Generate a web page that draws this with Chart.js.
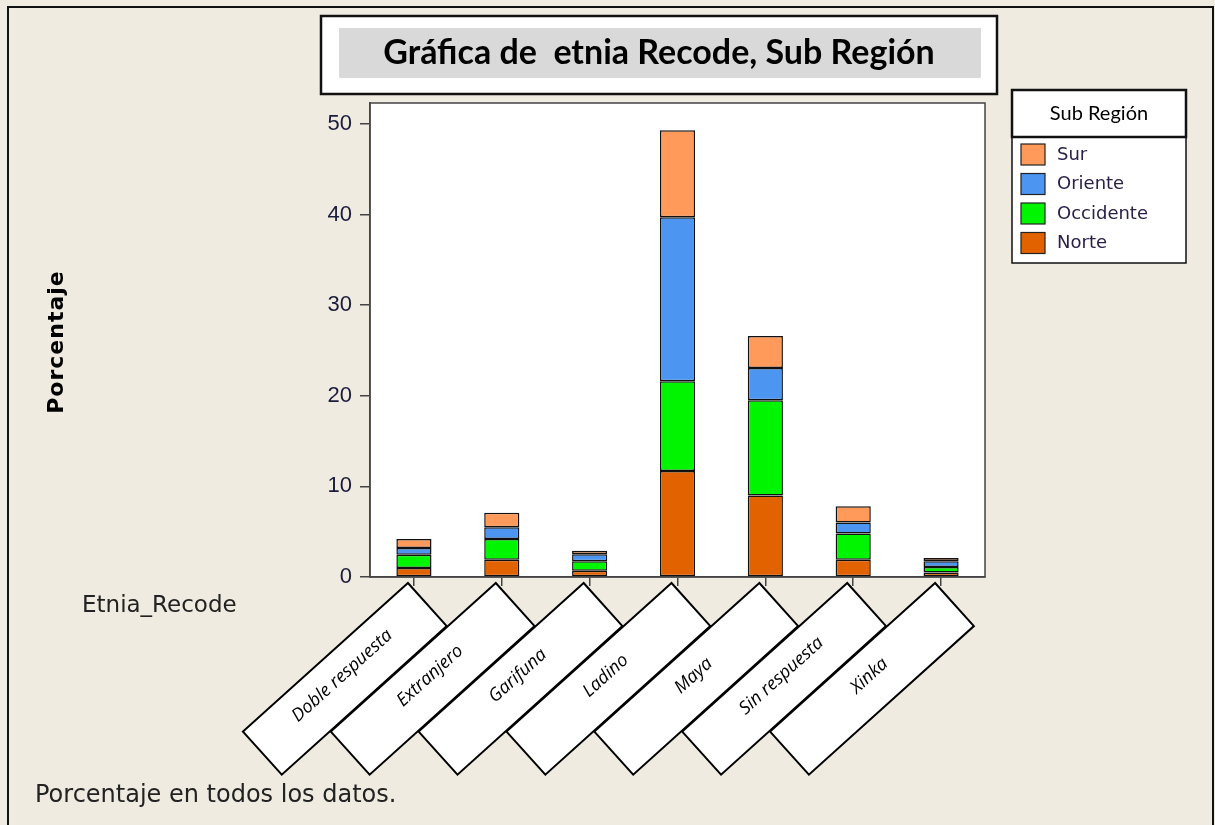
<!DOCTYPE html>
<html>
<head>
<meta charset="utf-8">
<script src="https://cdn.jsdelivr.net/npm/chart.js@4.4.1/dist/chart.umd.min.js"></script>
<style>
  html, body { margin: 0; padding: 0; background: #EFEBE1; }
  canvas { display: block; }
</style>
</head>
<body>
<canvas id="c" width="1215" height="825"></canvas>
<script>
const categories = ['Doble respuesta', 'Extranjero', 'Garifuna', 'Ladino', 'Maya', 'Sin respuesta', 'Xinka'];
const seriesNames = ['Norte', 'Occidente', 'Oriente', 'Sur'];
const norte     = [1.0, 1.9, 0.7, 11.7, 9.0, 1.9, 0.5];
const occidente = [1.45, 2.3, 1.05, 9.9, 10.5, 2.9, 0.6];
const oriente   = [0.75, 1.3, 0.75, 18.1, 3.55, 1.2, 0.65];
const sur       = [1.0, 1.6, 0.4, 9.6, 3.55, 1.8, 0.35];
const yTicks = [0, 10, 20, 30, 40, 50];
const titleText = 'Gráfica de  etnia Recode, Sub Región';
const legendTitle = 'Sub Región';
const yTitle = 'Porcentaje';
const xTitle = 'Etnia_Recode';
const footer = 'Porcentaje en todos los datos.';

const colors = { Norte: '#E36200', Occidente: '#00F500', Oriente: '#4C96F2', Sur: '#FF9A5A' };
const valuesByName = { Norte: norte, Occidente: occidente, Oriente: oriente, Sur: sur };

const decor = {
  id: 'decor',
  beforeDraw(chart) {
    const ctx = chart.ctx;
    const a = chart.chartArea;
    ctx.save();
    ctx.fillStyle = '#EFEBE1';
    ctx.fillRect(0, 0, chart.width, chart.height);
    // outer frame
    ctx.strokeStyle = '#111';
    ctx.lineWidth = 2;
    ctx.beginPath();
    ctx.moveTo(8, 825); ctx.lineTo(8, 7); ctx.lineTo(1213, 7); ctx.lineTo(1213, 825);
    ctx.stroke();
    // title box
    ctx.fillStyle = '#FFFFFF';
    ctx.fillRect(321, 16, 676, 78);
    ctx.lineWidth = 2.5;
    ctx.strokeRect(321, 16, 676, 78);
    ctx.fillStyle = '#D9D9D9';
    ctx.fillRect(339, 28, 642, 50);
    ctx.fillStyle = '#000';
    ctx.font = 'bold 34px Lato';
    ctx.textAlign = 'center';
    ctx.textBaseline = 'middle';
    ctx.fillText(titleText, 659, 53);
    // plot area
    ctx.fillStyle = '#FFFFFF';
    ctx.fillRect(a.left, a.top, a.right - a.left, a.bottom - a.top);
    ctx.restore();
  },
  afterDraw(chart) {
    const ctx = chart.ctx;
    const a = chart.chartArea;
    const xs = chart.scales.x;
    ctx.save();
    // plot frame
    ctx.strokeStyle = '#444';
    ctx.lineWidth = 1.5;
    ctx.strokeRect(a.left, a.top, a.right - a.left, a.bottom - a.top);

    // y title
    ctx.save();
    ctx.translate(57, 342);
    ctx.rotate(-Math.PI / 2);
    ctx.fillStyle = '#000';
    ctx.font = 'bold 22px "DejaVu Sans"';
    ctx.letterSpacing = '1px';
    ctx.textAlign = 'center';
    ctx.textBaseline = 'middle';
    ctx.fillText(yTitle, 0, 0);
    ctx.letterSpacing = '0px';
    ctx.restore();

    // x title and footer
    ctx.fillStyle = '#222';
    ctx.font = '23px "DejaVu Sans"';
    ctx.textAlign = 'left';
    ctx.textBaseline = 'middle';
    ctx.fillText(xTitle, 82, 606);
    ctx.font = '24px "DejaVu Sans"';
    ctx.fillText(footer, 35, 796);

    // legend
    ctx.fillStyle = '#FFFFFF';
    ctx.fillRect(1012, 90, 174, 173);
    ctx.strokeStyle = '#111';
    ctx.lineWidth = 1.5;
    ctx.strokeRect(1012, 90, 174, 173);
    ctx.lineWidth = 2.5;
    ctx.strokeRect(1012, 90, 174, 47);
    ctx.fillStyle = '#000';
    ctx.font = '20px Lato';
    ctx.textAlign = 'center';
    ctx.fillText(legendTitle, 1099, 114);
    const order = chart.data.datasets.slice().reverse();
    order.forEach((ds, i) => {
      const y = 144 + i * 29.5;
      ctx.fillStyle = ds.backgroundColor;
      ctx.fillRect(1021, y, 24, 21);
      ctx.strokeStyle = '#222';
      ctx.lineWidth = 1.2;
      ctx.strokeRect(1021, y, 24, 21);
      ctx.fillStyle = '#2A2048';
      ctx.font = '18px "DejaVu Sans"';
      ctx.textAlign = 'left';
      ctx.fillText(ds.label, 1057, y + 11);
    });

    // category label boxes
    const ang = 42 * Math.PI / 180;
    const L = 222, W = 58;
    const ux = -Math.cos(ang), uy = Math.sin(ang);
    const wx = Math.sin(ang), wy = Math.cos(ang);
    chart.data.labels.forEach((lab, i) => {
      const cx = xs.getPixelForValue(i);
      const tx = cx - 6, ty = 583;
      ctx.beginPath();
      ctx.moveTo(tx, ty);
      ctx.lineTo(tx + L * ux, ty + L * uy);
      ctx.lineTo(tx + L * ux + W * wx, ty + L * uy + W * wy);
      ctx.lineTo(tx + W * wx, ty + W * wy);
      ctx.closePath();
      ctx.fillStyle = '#FFFFFF';
      ctx.fill();
      ctx.strokeStyle = '#000';
      ctx.lineWidth = 2;
      ctx.stroke();
      const mx = tx + L / 2 * ux + W / 2 * wx;
      const my = ty + L / 2 * uy + W / 2 * wy;
      ctx.save();
      ctx.translate(mx, my);
      ctx.rotate(-ang);
      ctx.fillStyle = '#000';
      ctx.font = 'italic 18px "Open Sans"';
      ctx.textAlign = 'center';
      ctx.textBaseline = 'middle';
      ctx.fillText(lab, 0, -4);
      ctx.restore();
    });
    ctx.restore();
  }
};

const datasets = seriesNames.map(name => ({
  label: name,
  data: valuesByName[name],
  backgroundColor: colors[name],
  borderColor: '#111',
  borderWidth: 1.5,
  borderSkipped: false,
  barPercentage: 0.4,
  categoryPercentage: 1.0
}));

new Chart(document.getElementById('c'), {
  type: 'bar',
  data: { labels: categories, datasets },
  options: {
    responsive: false,
    devicePixelRatio: 1,
    animation: false,
    layout: { padding: { top: 103, left: 310, right: 230, bottom: 238 } },
    plugins: { legend: { display: false }, tooltip: { enabled: false }, title: { display: false } },
    scales: {
      x: {
        stacked: true,
        ticks: { display: false },
        grid: { display: true, offset: false, drawOnChartArea: false, drawTicks: true, tickLength: 9, color: '#444', lineWidth: 1.5 },
        border: { display: true, color: '#444', width: 1.5 },
        afterFit(s) { s.height = 10; }
      },
      y: {
        stacked: true,
        min: 0,
        max: 52.3,
        ticks: {
          stepSize: 10,
          includeBounds: false,
          color: '#1B1B3C',
          font: { family: '"Liberation Sans Narrow", "Liberation Sans"', size: 22 },
          padding: 8
        },
        afterBuildTicks(s) { s.ticks = yTicks.map(v => ({ value: v })); },
        grid: { display: true, drawOnChartArea: false, drawTicks: true, tickLength: 10, color: '#444', lineWidth: 1.5 },
        border: { display: true, color: '#444', width: 1.5 },
        afterFit(s) { s.width = 60; }
      }
    }
  },
  plugins: [decor]
});
</script>
</body>
</html>
